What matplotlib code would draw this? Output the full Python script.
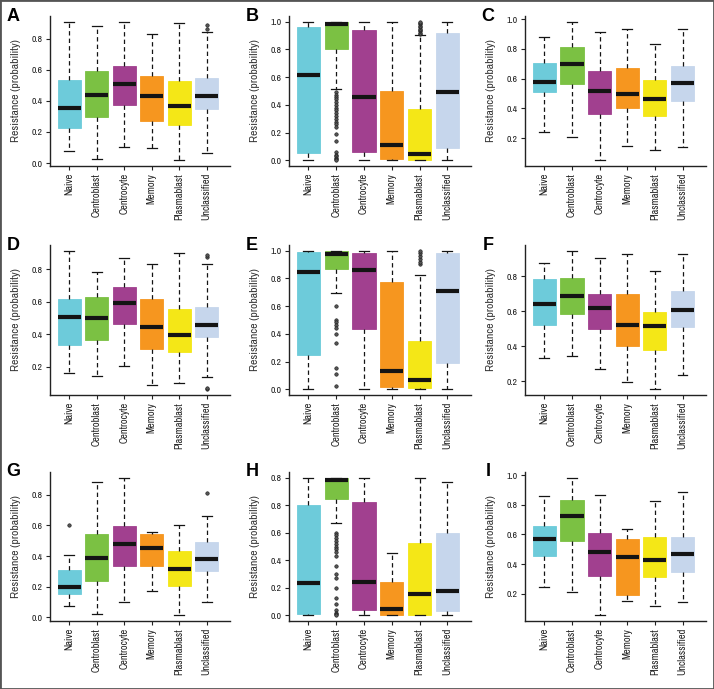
import numpy as np
import matplotlib
matplotlib.use("Agg")
import matplotlib.pyplot as plt
from matplotlib import font_manager as fm
from matplotlib.patches import Rectangle

# pick a narrow sans if one is installed (the original uses a condensed face)
narrow = [f for f in fm.fontManager.ttflist
          if ('Narrow' in f.name or 'Condensed' in f.name or f.stretch in ('condensed', 'semi-condensed'))
          and f.style == 'normal' and f.weight in (400, 'normal', 'regular')]
narrow.sort(key=lambda f: (0 if 'Liberation' in f.name else 1, f.name))
if narrow:
    plt.rcParams['font.family'] = [narrow[0].name, 'DejaVu Sans']
    plt.rcParams['font.stretch'] = narrow[0].stretch
    small = 1.0
else:
    plt.rcParams['font.family'] = ['DejaVu Sans']
    small = 0.85

cells = ['Naive', 'Centroblast', 'Centrocyte', 'Memory', 'Plasmablast', 'Unclassified']
colors = ['#6DCBDA', '#7BC143', '#A1408F', '#F6961F', '#F4E717', '#C6D6EC']

# box statistics: whisker low, Q1, median, Q3, whisker high, outliers
A_lo = [0.079, 0.028, 0.105, 0.098, 0.017, 0.068]
A_q1 = [0.223, 0.293, 0.376, 0.271, 0.245, 0.350]
A_med = [0.356, 0.435, 0.505, 0.428, 0.367, 0.433]
A_q3 = [0.536, 0.592, 0.625, 0.557, 0.525, 0.546]
A_hi = [0.907, 0.879, 0.909, 0.831, 0.898, 0.839]
A_out = [[], [], [], [], [], [0.86, 0.885]]

B_lo = [0.0, 0.517, 0.0, 0.0, 0.0, 0.0]
B_q1 = [0.051, 0.806, 0.059, 0.010, 0.005, 0.093]
B_med = [0.615, 0.983, 0.456, 0.110, 0.044, 0.493]
B_q3 = [0.958, 0.998, 0.941, 0.498, 0.370, 0.920]
B_hi = [1.0, 1.0, 1.0, 1.0, 0.904, 1.0]
B_out = [[], [0.49, 0.47, 0.46, 0.44, 0.42, 0.40, 0.38, 0.36, 0.34, 0.32, 0.30, 0.28,
              0.26, 0.24, 0.19, 0.14, 0.06, 0.04, 0.03, 0.02, 0.01, 0.0],
         [], [], [0.91, 0.92, 0.93, 0.94, 0.95, 0.96, 0.97, 0.98, 0.99, 1.0], []]

C_lo = [0.243, 0.207, 0.051, 0.150, 0.118, 0.143]
C_q1 = [0.513, 0.566, 0.362, 0.401, 0.351, 0.449]
C_med = [0.577, 0.698, 0.520, 0.497, 0.467, 0.573]
C_q3 = [0.707, 0.813, 0.653, 0.671, 0.593, 0.687]
C_hi = [0.879, 0.984, 0.915, 0.931, 0.835, 0.931]
C_out = [[], [], [], [], [], []]

D_lo = [0.165, 0.146, 0.208, 0.091, 0.099, 0.138]
D_q1 = [0.338, 0.365, 0.464, 0.311, 0.289, 0.384]
D_med = [0.505, 0.499, 0.592, 0.443, 0.394, 0.458]
D_q3 = [0.616, 0.627, 0.691, 0.616, 0.559, 0.569]
D_hi = [0.915, 0.784, 0.870, 0.831, 0.899, 0.831]
D_out = [[], [], [], [], [], [0.062, 0.072, 0.875, 0.89]]

E_lo = [0.0, 0.692, 0.0, 0.0, 0.0, 0.0]
E_q1 = [0.249, 0.865, 0.438, 0.020, 0.012, 0.187]
E_med = [0.845, 0.975, 0.860, 0.135, 0.069, 0.709]
E_q3 = [0.988, 0.998, 0.980, 0.771, 0.350, 0.980]
E_hi = [1.0, 1.0, 1.0, 1.0, 0.823, 1.0]
E_out = [[], [0.603, 0.50, 0.483, 0.466, 0.446, 0.401, 0.335, 0.155, 0.113, 0.027],
         [], [], [0.90, 0.92, 0.94, 0.96, 0.98, 1.0], []]

F_lo = [0.334, 0.343, 0.271, 0.194, 0.152, 0.237]
F_q1 = [0.521, 0.584, 0.499, 0.400, 0.376, 0.512]
F_med = [0.642, 0.688, 0.618, 0.523, 0.514, 0.609]
F_q3 = [0.783, 0.791, 0.700, 0.698, 0.597, 0.716]
F_hi = [0.878, 0.948, 0.904, 0.928, 0.828, 0.930]
F_out = [[], [], [], [], [], []]

G_lo = [0.075, 0.024, 0.103, 0.174, 0.013, 0.103]
G_q1 = [0.156, 0.235, 0.338, 0.336, 0.202, 0.305]
G_med = [0.200, 0.389, 0.477, 0.455, 0.314, 0.382]
G_q3 = [0.312, 0.545, 0.593, 0.543, 0.433, 0.490]
G_hi = [0.404, 0.881, 0.912, 0.556, 0.602, 0.662]
G_out = [[0.60], [], [], [], [], [0.811]]

H_lo = [0.0, 0.673, 0.0, 0.0, 0.0, 0.0]
H_q1 = [0.010, 0.846, 0.041, 0.005, 0.002, 0.029]
H_med = [0.232, 0.985, 0.246, 0.046, 0.154, 0.180]
H_q3 = [0.802, 0.998, 0.822, 0.246, 0.527, 0.595]
H_hi = [1.0, 1.0, 1.0, 0.456, 0.993, 0.971]
H_out = [[], [0.60, 0.58, 0.56, 0.54, 0.52, 0.50, 0.48, 0.46, 0.43, 0.36, 0.30, 0.27,
              0.20, 0.13, 0.08, 0.04, 0.02, 0.01, 0.0],
         [], [], [], []]
H_ticklabels = ['0.0', '0.2', '0.4', '0.6', '0.8', '0.8']

I_lo = [0.248, 0.211, 0.054, 0.154, 0.120, 0.143]
I_q1 = [0.453, 0.556, 0.321, 0.195, 0.314, 0.346]
I_med = [0.569, 0.724, 0.483, 0.451, 0.426, 0.471]
I_q3 = [0.658, 0.834, 0.610, 0.567, 0.583, 0.583]
I_hi = [0.861, 0.984, 0.868, 0.638, 0.827, 0.886]
I_out = [[], [], [], [], [], []]

panels = [
    ('A', A_lo, A_q1, A_med, A_q3, A_hi, A_out),
    ('B', B_lo, B_q1, B_med, B_q3, B_hi, B_out),
    ('C', C_lo, C_q1, C_med, C_q3, C_hi, C_out),
    ('D', D_lo, D_q1, D_med, D_q3, D_hi, D_out),
    ('E', E_lo, E_q1, E_med, E_q3, E_hi, E_out),
    ('F', F_lo, F_q1, F_med, F_q3, F_hi, F_out),
    ('G', G_lo, G_q1, G_med, G_q3, G_hi, G_out),
    ('H', H_lo, H_q1, H_med, H_q3, H_hi, H_out),
    ('I', I_lo, I_q1, I_med, I_q3, I_hi, I_out),
]

W, H = 714, 689
fig = plt.figure(figsize=(W / 100, H / 100), dpi=100)

# axes boxes in pixels (left, right) per column and (top, bottom) per row
cols = [(50, 230), (289, 471), (525, 706)]
rows = [(16, 166), (245, 395), (472, 621)]

for k, (letter, lo, q1, med, q3, hi, out) in enumerate(panels):
    (x0, x1), (y0, y1) = cols[k % 3], rows[k // 3]
    ax = fig.add_axes([x0 / W, 1 - y1 / H, (x1 - x0) / W, (y1 - y0) / H])

    stats = [dict(whislo=lo[i], q1=q1[i], med=med[i], q3=q3[i], whishi=hi[i], fliers=out[i])
             for i in range(len(cells))]
    bp = ax.bxp(stats, positions=np.arange(1, len(cells) + 1), widths=0.84,
                patch_artist=True, capwidths=0.36, manage_ticks=False,
                boxprops=dict(linewidth=0.6),
                medianprops=dict(color='#141414', linewidth=3, solid_capstyle='butt'),
                whiskerprops=dict(color='#141414', linewidth=0.9, linestyle=(0, (3.5, 2.5))),
                capprops=dict(color='#141414', linewidth=0.9),
                flierprops=dict(marker='o', markersize=2.5, markerfacecolor='#555555',
                                markeredgecolor='#141414', markeredgewidth=0.4, linestyle='none'))
    for patch, c in zip(bp['boxes'], colors):
        patch.set_facecolor(c)
        patch.set_edgecolor(c)

    # R-style 4% padding around the data range
    allv = lo + hi + [v for f in out for v in f]
    ymin, ymax = min(allv), max(allv)
    pad = 0.04 * (ymax - ymin)
    ax.set_ylim(ymin - pad, ymax + pad)
    ax.set_xlim(0.3, 6.85)

    yt = [t for t in np.round(np.arange(0, 1.01, 0.2), 1) if ymin - pad <= t <= ymax + pad]
    ax.set_yticks(yt)
    if letter == 'H':
        ax.set_yticklabels(H_ticklabels)
    else:
        ax.set_yticklabels(['%.1f' % t for t in yt])

    ax.set_xticks(np.arange(1, len(cells) + 1))
    ax.set_xticklabels(cells, rotation=90, fontsize=7.5 * small, color='#222222')
    ax.tick_params(axis='y', length=3, width=0.8, labelsize=7 * small, pad=2, colors='#222222')
    ax.tick_params(axis='x', length=3, width=0.8, pad=2, colors='#222222')

    for s in ['top', 'right']:
        ax.spines[s].set_visible(False)
    for s in ['left', 'bottom']:
        ax.spines[s].set_linewidth(1.0)
        ax.spines[s].set_color('#222222')

    ax.set_ylabel('Resistance (probability)', fontsize=8.4 * small, color='#333333')
    ax.yaxis.set_label_coords(-29 / (x1 - x0), 0.5)

    ax.text(-37 / (x1 - x0), 1.0, letter, transform=ax.transAxes, fontsize=13,
            fontweight='bold', family=['Liberation Sans', 'DejaVu Sans'], stretch='normal',
            ha='center', va='center')

fig.patches.append(Rectangle((0, 0), 1, 1, transform=fig.transFigure, fill=False,
                             edgecolor='#555555', linewidth=2))

fig.savefig('out.png', dpi=100)
